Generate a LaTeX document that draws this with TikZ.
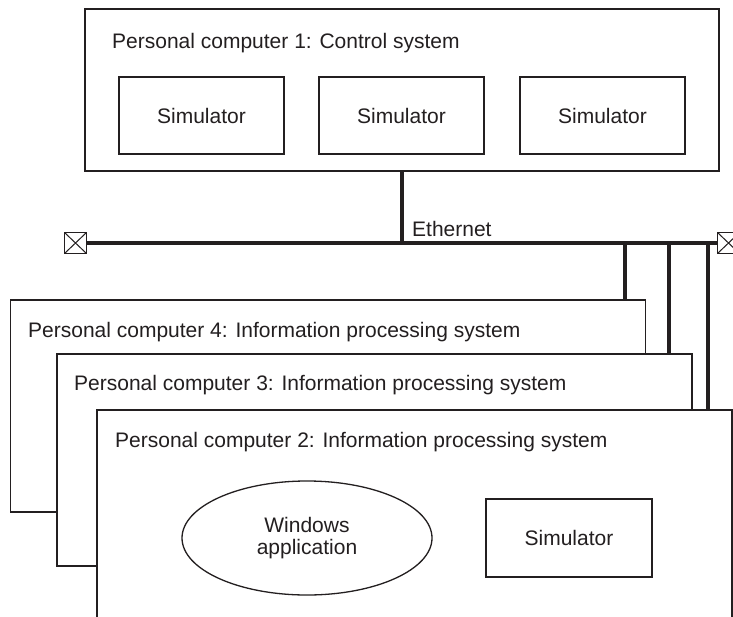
\documentclass[tikz,border=0pt]{standalone}
\usepackage{fontspec}
\setmainfont{Liberation Sans}
\usetikzlibrary{shapes.geometric}
\definecolor{ink}{HTML}{231F20}
\begin{document}
\begin{tikzpicture}[x=1pt,y=-1pt,
  every node/.style={font=\fontsize{21}{25}\selectfont, text=ink},
  box/.style={draw=ink, line width=1.3pt, fill=white, rectangle, inner sep=0pt, align=center},
  bus/.style={draw=ink, line width=3.6pt},
  lbl/.style={anchor=west, inner sep=0pt},
  term/.style={draw=ink, line width=1.2pt, fill=white, rectangle, inner sep=0pt,
    minimum width=22pt, minimum height=21pt,
    path picture={\draw[ink, line width=1pt] (path picture bounding box.north west) -- (path picture bounding box.south east)
      (path picture bounding box.north east) -- (path picture bounding box.south west);}}
]
\useasboundingbox (0,0) rectangle (733,616);
\clip (0,0) rectangle (733,616);

% PC1
\node[box, minimum width=634pt, minimum height=162pt] (pc1) at (402,90) {};
\node[lbl] (t1) at (112,43) {Personal computer 1: Control system};
\node[box, minimum width=165pt, minimum height=77pt] (s1) at (201.5,115.5) {Simulator};
\node[box, minimum width=165pt, minimum height=77pt] (s2) at (401.5,115.5) {Simulator};
\node[box, minimum width=165pt, minimum height=77pt] (s3) at (602.5,115.5) {Simulator};

% Ethernet
\node[term] (tl) at (75.5,243) {};
\node[term] (tr) at (728.5,243) {};
\draw[bus] (tl.east) -- (tr.west);
\coordinate (j1) at (402,243);
\draw[bus] (pc1.south) -- (j1);
\node[lbl] (eth) at (412,229) {Ethernet};

% PC4, PC3, PC2
\node[box, minimum width=635pt, minimum height=212pt] (pc4) at (328.3,406) {};
\node[lbl] (t4) at (28,332) {Personal computer 4: Information processing system};
\node[box, minimum width=635pt, minimum height=212pt] (pc3) at (374.5,460) {};
\node[lbl] (t3) at (74,385) {Personal computer 3: Information processing system};
\node[box, minimum width=635pt, minimum height=212pt] (pc2) at (414.5,516) {};
\node[lbl] (t2) at (115,442) {Personal computer 2: Information processing system};

\node[draw=ink, line width=1.3pt, ellipse, minimum width=250pt, minimum height=114pt, inner sep=0pt, align=center] (app) at (307,538) {Windows\\[-3pt]application};
\node[box, minimum width=166pt, minimum height=78pt] (s4) at (569,538) {Simulator};

% drops
\coordinate (d4) at (625,243);
\coordinate (d3) at (669,243);
\coordinate (d2) at (708,243);
\draw[bus] (d4) -- (d4 |- pc4.north);
\draw[bus] (d3) -- (d3 |- pc3.north);
\draw[bus] (d2) -- (d2 |- pc2.north);
\end{tikzpicture}
\end{document}
